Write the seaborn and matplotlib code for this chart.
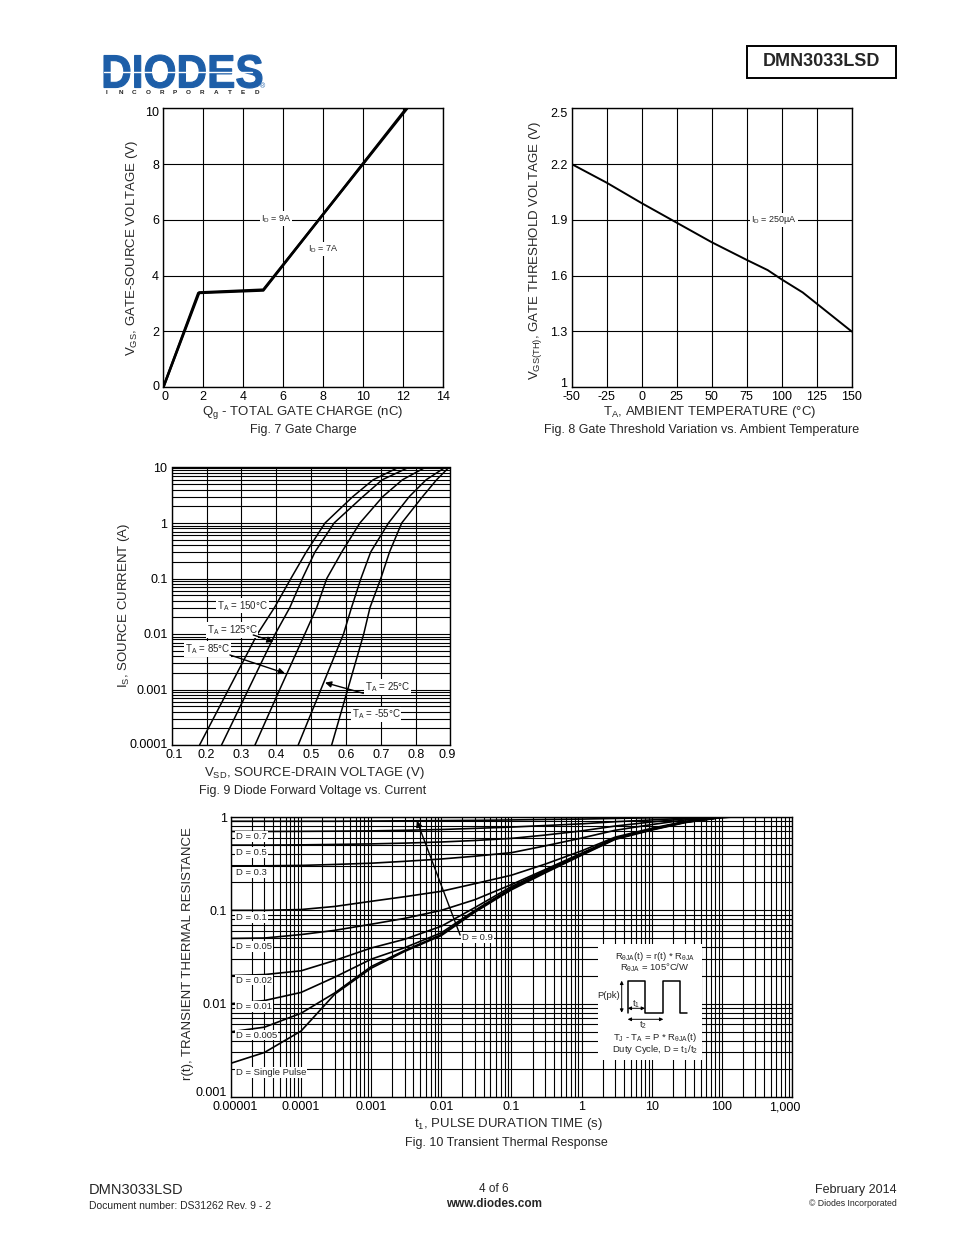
import numpy as np
import pandas as pd
import matplotlib
matplotlib.use("Agg")
import matplotlib.pyplot as plt
import seaborn as sns
from matplotlib.ticker import FixedLocator, FixedFormatter, LogLocator, NullFormatter
from matplotlib.patches import Rectangle, PathPatch
from matplotlib.textpath import TextPath
from matplotlib.font_manager import FontProperties
from matplotlib.transforms import Affine2D, ScaledTranslation
from matplotlib.lines import Line2D

# ---------------- data ----------------
# Fig 7 gate charge
qg_9a = [0, 1.8, 5.0, 12.2]
vgs_9a = [0, 3.4, 3.5, 10.0]
qg_7a = [0, 1.75, 5.0, 12.15]
vgs_7a = [0, 3.38, 3.47, 10.0]

# Fig 8 gate threshold vs temperature
temp_c = [-50, -25, 0, 25, 50, 75, 90, 100, 115, 125, 150]
vgs_th = [2.20, 2.10, 1.99, 1.885, 1.78, 1.685, 1.63, 1.58, 1.51, 1.45, 1.30]

# Fig 9 diode forward voltage vs current
source_current = [0.0001, 0.001, 0.01, 0.03, 0.1, 0.3, 1, 3, 6, 10]
vsd_150 = [0.180, 0.263, 0.346, 0.395, 0.442, 0.486, 0.540, 0.620, 0.678, 0.750]
vsd_125 = [0.243, 0.320, 0.397, 0.439, 0.475, 0.511, 0.566, 0.649, 0.704, 0.779]
vsd_85 = [0.339, 0.410, 0.482, 0.516, 0.545, 0.588, 0.640, 0.706, 0.762, 0.827]
vsd_25 = [0.463, 0.528, 0.593, 0.616, 0.643, 0.671, 0.722, 0.782, 0.830, 0.884]
vsd_m55 = [0.559, 0.605, 0.651, 0.669, 0.700, 0.725, 0.760, 0.820, 0.860, 0.895]

# Fig 10 transient thermal response
pulse_time = [0.00001, 0.00003, 0.0001, 0.0003, 0.001, 0.003, 0.01, 0.03,
              0.1, 0.3, 1, 3, 10, 30, 100, 160]
r_d09 = [0.90, 0.90, 0.90, 0.90, 0.905, 0.91, 0.915, 0.92, 0.93, 0.94, 0.95, 0.965, 0.98, 0.99, 0.999, 1.0]
r_d07 = [0.70, 0.70, 0.702, 0.705, 0.71, 0.72, 0.735, 0.755, 0.78, 0.81, 0.845, 0.89, 0.93, 0.97, 0.998, 1.0]
r_d05 = [0.50, 0.50, 0.503, 0.508, 0.515, 0.525, 0.54, 0.56, 0.59, 0.64, 0.71, 0.80, 0.885, 0.955, 0.998, 1.0]
r_d03 = [0.30, 0.30, 0.303, 0.31, 0.32, 0.335, 0.355, 0.38, 0.415, 0.49, 0.595, 0.72, 0.83, 0.93, 0.995, 1.0]
r_d01 = [0.100, 0.100, 0.102, 0.110, 0.125, 0.140, 0.160, 0.193, 0.238, 0.312, 0.434, 0.608, 0.757, 0.897, 0.993, 1.0]
r_d005 = [0.050, 0.0505, 0.055, 0.061, 0.071, 0.082, 0.100, 0.130, 0.189, 0.273, 0.410, 0.595, 0.745, 0.890, 0.993, 1.0]
r_d002 = [0.020, 0.0205, 0.0225, 0.0290, 0.0395, 0.049, 0.0676, 0.107, 0.180, 0.266, 0.403, 0.589, 0.741, 0.885, 0.993, 1.0]
r_d001 = [0.0100, 0.0108, 0.0132, 0.0192, 0.0300, 0.0398, 0.0575, 0.100, 0.174, 0.260, 0.398, 0.586, 0.736, 0.881, 0.991, 1.0]
r_d0005 = [0.0050, 0.0056, 0.0079, 0.0130, 0.0250, 0.0372, 0.0550, 0.0977, 0.170, 0.257, 0.394, 0.582, 0.733, 0.877, 0.991, 1.0]
r_single = [0.00230, 0.00300, 0.00510, 0.0126, 0.0240, 0.0363, 0.0537, 0.0955, 0.166, 0.251, 0.389, 0.575, 0.724, 0.871, 0.989, 1.0]

# ---------------- style ----------------
sns.set_theme(style="white")
plt.rcParams["font.family"] = ["Liberation Sans", "DejaVu Sans"]
plt.rcParams["mathtext.fontset"] = "custom"
plt.rcParams["mathtext.rm"] = "Liberation Sans"
plt.rcParams["mathtext.it"] = "Liberation Sans:italic"
plt.rcParams["mathtext.bf"] = "Liberation Sans:bold"
plt.rcParams["mathtext.default"] = "regular"
plt.rcParams["axes.unicode_minus"] = False

W, H = 954, 1235
fig = plt.figure(figsize=(W / 100, H / 100), dpi=100)
fig.patch.set_facecolor("white")


def px_axes(l, t, r, b):
    return fig.add_axes([l / W, 1 - b / H, (r - l) / W, (b - t) / H])


def style(ax):
    ax.set_facecolor("white")
    for s in ax.spines.values():
        s.set_color("black")
        s.set_linewidth(1.0)
        s.set_visible(True)
    ax.tick_params(which="both", length=0, pad=3, labelsize=9, colors="black")
    ax.set_axisbelow(True)


def shift(ax, axis, idx, dx, dy):
    ticks = (ax.xaxis if axis == "x" else ax.yaxis).get_major_ticks()
    lab = ticks[idx].label1
    lab.set_transform(lab.get_transform() + ScaledTranslation(dx / 100, -dy / 100, fig.dpi_scale_trans))


def labels(ax, xl, xly, yl, ylx, yly, title, tx, ty, xlx=0.5):
    ax.set_xlabel(xl, fontsize=9.5)
    ax.xaxis.set_label_coords(xlx, xly)
    ax.xaxis.label.set_verticalalignment("center")
    ax.set_ylabel(yl, fontsize=9.5)
    ax.yaxis.set_label_coords(ylx, yly)
    ax.yaxis.label.set_verticalalignment("center")
    ax.text(tx, ty, title, transform=ax.transAxes, ha="center", va="center", fontsize=9)


GRID = dict(color="black", linewidth=0.8)
BOX = dict(facecolor="white", edgecolor="none", pad=0.6)

# ---------------- Fig 7 ----------------
ax7 = px_axes(163.3, 108.3, 443.3, 387.3)
style(ax7)
ax7.grid(True, which="major", **GRID)
sns.lineplot(x=qg_9a, y=vgs_9a, ax=ax7, color="black", lw=1.8, sort=False, estimator=None)
sns.lineplot(x=qg_7a, y=vgs_7a, ax=ax7, color="black", lw=1.8, sort=False, estimator=None)
ax7.set_xlim(0, 14)
ax7.set_ylim(0, 10)
ax7.set_xticks(range(0, 15, 2))
ax7.set_yticks(range(0, 11, 2))
shift(ax7, "y", 0, 0, -2)
shift(ax7, "y", 5, 0, 3)
shift(ax7, "x", 0, 2, 0)
ax7.text(5.64, 6.05, r"I$_D$ = 9A", fontsize=6.5, ha="center", va="center", bbox=BOX)
ax7.text(7.98, 4.96, r"I$_D$ = 7A", fontsize=6.5, ha="center", va="center", bbox=BOX)
labels(ax7, r"Q$_g$ - TOTAL GATE CHARGE (nC)", -0.092,
       r"V$_{GS}$, GATE-SOURCE VOLTAGE (V)", -0.112, 0.5,
       "Fig. 7 Gate Charge", 0.5, -0.153, xlx=0.497)

# ---------------- Fig 8 ----------------
ax8 = px_axes(571.7, 108.3, 851.7, 387.3)
style(ax8)
ax8.grid(True, which="major", **GRID)
sns.lineplot(x=temp_c, y=vgs_th, ax=ax8, color="black", lw=1.4, sort=False, estimator=None)
ax8.set_xlim(-50, 150)
ax8.set_ylim(1, 2.5)
ax8.set_xticks(range(-50, 151, 25))
ax8.yaxis.set_major_locator(FixedLocator([1.0, 1.3, 1.6, 1.9, 2.2, 2.5]))
ax8.yaxis.set_major_formatter(FixedFormatter(["1", "1.3", "1.6", "1.9", "2.2", "2.5"]))
shift(ax8, "y", 0, 0, -5)
shift(ax8, "y", 5, 0, 4)
ax8.text(94.5, 1.9, r"I$_D$ = 250µA", fontsize=6.5, ha="center", va="center", bbox=BOX)
labels(ax8, r"T$_A$, AMBIENT TEMPERATURE (°C)", -0.089,
       r"V$_{GS(TH)}$, GATE THRESHOLD VOLTAGE (V)", -0.1275, 0.489,
       "Fig. 8 Gate Threshold Variation vs. Ambient Temperature", 0.464, -0.153, xlx=0.494)

# ---------------- Fig 9 ----------------
ax9 = px_axes(171.7, 467.5, 450.5, 745.0)
style(ax9)
ax9.set_yscale("log")
ax9.set_xlim(0.1, 0.9)
ax9.set_ylim(0.0001, 10)
ax9.xaxis.set_major_locator(FixedLocator([0.1, 0.2, 0.3, 0.4, 0.5, 0.6, 0.7, 0.8, 0.9]))
ax9.xaxis.set_major_formatter(FixedFormatter(["0.1", "0.2", "0.3", "0.4", "0.5", "0.6", "0.7", "0.8", "0.9"]))
ax9.yaxis.set_major_locator(FixedLocator([0.0001, 0.001, 0.01, 0.1, 1, 10]))
ax9.yaxis.set_major_formatter(FixedFormatter(["0.0001", "0.001", "0.01", "0.1", "1", "10"]))
ax9.yaxis.set_minor_locator(LogLocator(base=10, subs=np.arange(2, 10), numticks=30))
ax9.yaxis.set_minor_formatter(NullFormatter())
shift(ax9, "x", 0, 2, 0)
shift(ax9, "x", 8, -3, 0)
shift(ax9, "y", 0, 0, -2)
ax9.grid(True, which="major", axis="x", **GRID)
ax9.grid(True, which="both", axis="y", **GRID)
for v in (vsd_150, vsd_125, vsd_85, vsd_25, vsd_m55):
    sns.lineplot(x=v, y=source_current, ax=ax9, color="black", lw=1.1, sort=False, estimator=None)
ax9.text(0.230, 0.0324, r"T$_A$ = 150°C", fontsize=7, ha="left", va="center", bbox=BOX)
ax9.text(0.200, 0.0118, r"T$_A$ = 125°C", fontsize=7, ha="left", va="center", bbox=BOX)
ax9.text(0.138, 0.0054, r"T$_A$ = 85°C", fontsize=7, ha="left", va="center", bbox=BOX)
ax9.text(0.655, 0.0011, r"T$_A$ = 25°C", fontsize=7, ha="left", va="center", bbox=BOX)
ax9.text(0.617, 0.000357, r"T$_A$ = -55°C", fontsize=7, ha="left", va="center", bbox=BOX)
ARW = dict(arrowstyle="-|>", color="black", lw=1.0, mutation_scale=9, shrinkA=0, shrinkB=0)
ax9.annotate("", xy=(0.392, 0.00726), xytext=(0.334, 0.0096), arrowprops=ARW)
ax9.annotate("", xy=(0.425, 0.00196), xytext=(0.267, 0.00419), arrowprops=ARW)
ax9.annotate("", xy=(0.540, 0.00133), xytext=(0.650, 0.000855), arrowprops=ARW)
labels(ax9, r"V$_{SD}$, SOURCE-DRAIN VOLTAGE (V)", -0.101,
       r"I$_S$, SOURCE CURRENT (A)", -0.171, 0.505,
       "Fig. 9 Diode Forward Voltage vs. Current", 0.507, -0.166, xlx=0.51)

# ---------------- Fig 10 ----------------
ax10 = px_axes(231.0, 817.0, 792.0, 1097.0)
style(ax10)
ax10.set_xscale("log")
ax10.set_yscale("log")
ax10.set_xlim(0.00001, 1000)
ax10.set_ylim(0.001, 1)
ax10.xaxis.set_major_locator(FixedLocator([1e-5, 1e-4, 1e-3, 1e-2, 1e-1, 1, 10, 100, 1000]))
ax10.xaxis.set_major_formatter(FixedFormatter(["0.00001", "0.0001", "0.001", "0.01", "0.1", "1", "10", "100", "1,000"]))
ax10.yaxis.set_major_locator(FixedLocator([0.001, 0.01, 0.1, 1]))
ax10.yaxis.set_major_formatter(FixedFormatter(["0.001", "0.01", "0.1", "1"]))
ax10.xaxis.set_minor_locator(LogLocator(base=10, subs=np.arange(2, 10), numticks=40))
ax10.yaxis.set_minor_locator(LogLocator(base=10, subs=np.arange(2, 10), numticks=40))
ax10.xaxis.set_minor_formatter(NullFormatter())
ax10.yaxis.set_minor_formatter(NullFormatter())
ax10.tick_params(axis="x", pad=3)
shift(ax10, "y", 0, 0, -6)
shift(ax10, "y", 3, 0, 1)
shift(ax10, "x", 0, 4, 0)
shift(ax10, "x", 8, -7, 0)
ax10.grid(True, which="both", **GRID)
for r in (r_d09, r_d07, r_d05, r_d03, r_d01, r_d005, r_d002, r_d001, r_d0005, r_single):
    sns.lineplot(x=pulse_time, y=r, ax=ax10, color="black", lw=1.2, sort=False, estimator=None)
d_labels = [("D = 0.7", 0.615), ("D = 0.5", 0.414), ("D = 0.3", 0.255), ("D = 0.1", 0.0841),
            ("D = 0.05", 0.0407), ("D = 0.02", 0.0179), ("D = 0.01", 0.00927),
            ("D = 0.005", 0.0046), ("D = Single Pulse", 0.00184)]
for txt, yv in d_labels:
    ax10.text(0.0000118, yv, txt, fontsize=6.8, ha="left", va="center", bbox=BOX)
ax10.text(0.0197, 0.0508, "D = 0.9", fontsize=6.8, ha="left", va="center", bbox=BOX)
ax10.annotate("", xy=(0.00447, 0.912), xytext=(0.0185, 0.0543), arrowprops=ARW)
labels(ax10, r"t$_1$, PULSE DURATION TIME (s)", -0.096,
       "r(t), TRANSIENT THERMAL RESISTANCE", -0.0767, 0.514,
       "Fig. 10 Transient Thermal Response", 0.49, -0.164, xlx=0.494)

# inset with formula / waveform
ax_in = px_axes(598, 944, 702, 1060)
ax_in.set_facecolor("white")
for s in ax_in.spines.values():
    s.set_visible(False)
ax_in.set_xticks([])
ax_in.set_yticks([])
ax_in.set_xlim(0, 104)
ax_in.set_ylim(116, 0)
ax_in.plot([29.7, 29.7, 47, 47, 65.3, 65.3, 82, 82, 88.7],
           [68.7, 36.7, 36.7, 68.7, 68.7, 36.7, 36.7, 68.7, 68.7], color="black", lw=1.1)
DARW = dict(arrowstyle="<|-|>", color="black", lw=0.7, mutation_scale=5, shrinkA=0, shrinkB=0)
ax_in.annotate("", xy=(23.7, 36.7), xytext=(23.7, 68.7), arrowprops=DARW)
ax_in.annotate("", xy=(29.7, 64.3), xytext=(47, 64.3), arrowprops=DARW)
ax_in.annotate("", xy=(29.7, 75.3), xytext=(65.3, 75.3), arrowprops=DARW)
ax_in.text(22.5, 51, "P(pk)", fontsize=6.8, ha="right", va="center")
ax_in.text(38.5, 60, r"t$_1$", fontsize=6.8, ha="center", va="center")
ax_in.text(45.5, 81.5, r"t$_2$", fontsize=6.8, ha="center", va="center")
ax_in.text(57, 12.7, r"R$_{\theta JA}$(t) = r(t) * R$_{\theta JA}$", fontsize=6.8, ha="center", va="center")
ax_in.text(57, 23.3, r"R$_{\theta JA}$ = 105°C/W", fontsize=6.8, ha="center", va="center")
ax_in.text(57, 93.7, r"T$_J$ - T$_A$ = P * R$_{\theta JA}$(t)", fontsize=6.8, ha="center", va="center")
ax_in.text(57, 105.3, r"Duty Cycle, D = t$_1$/t$_2$", fontsize=6.8, ha="center", va="center")

# ---------------- header ----------------
pix = Affine2D().scale(1 / W, 1 / H) + fig.transFigure
fp = FontProperties(family="Liberation Sans", weight="bold")
tp = TextPath((0, 0), "DIODES", size=1, prop=fp)
ext = tp.get_extents()
sx = 158 / ext.width
sy = 33 / ext.height
logo_tr = Affine2D().translate(-ext.x0, -ext.y0).scale(sx, sy).translate(104, H - 88) + pix
fig.patches.append(PathPatch(tp, transform=logo_tr, facecolor="#1d5ea8", edgecolor="#1d5ea8", lw=0.8))
fig.lines.append(Line2D([104, 252], [H - 71.5, H - 71.5], transform=pix, color="white", lw=1.0))
fig.text(263 / W, 1 - 87 / H, "®", fontsize=5, color="#1d5ea8", ha="center", va="center")
for i, ch in enumerate("INCORPORATED"):
    fig.text((107 + i * 13.6) / W, 1 - 92.5 / H, ch, fontsize=4.6, fontweight="bold",
             ha="center", va="center", color="#222222")

fig.patches.append(Rectangle((747, H - 78), 149, 32, transform=pix, fill=False,
                             edgecolor="black", lw=1.4))
fig.text(821.5 / W, 1 - 62 / H, "DMN3033LSD", fontsize=13, fontweight="bold",
         ha="center", va="center")

# ---------------- footer ----------------
fig.text(89 / W, 1 - 1190 / H, "DMN3033LSD", fontsize=10.5, ha="left", va="center")
fig.text(89 / W, 1 - 1206 / H, "Document number: DS31262 Rev. 9 - 2", fontsize=7.5, ha="left", va="center")
fig.text(494 / W, 1 - 1189 / H, "4 of 6", fontsize=8.5, ha="center", va="center")
fig.text(494 / W, 1 - 1204 / H, "www.diodes.com", fontsize=8.5, fontweight="bold", ha="center", va="center")
fig.text(897 / W, 1 - 1190 / H, "February 2014", fontsize=9, ha="right", va="center")
fig.text(897 / W, 1 - 1204 / H, "© Diodes Incorporated", fontsize=6.3, ha="right", va="center")

fig.savefig("out.png", dpi=100, facecolor="white")
